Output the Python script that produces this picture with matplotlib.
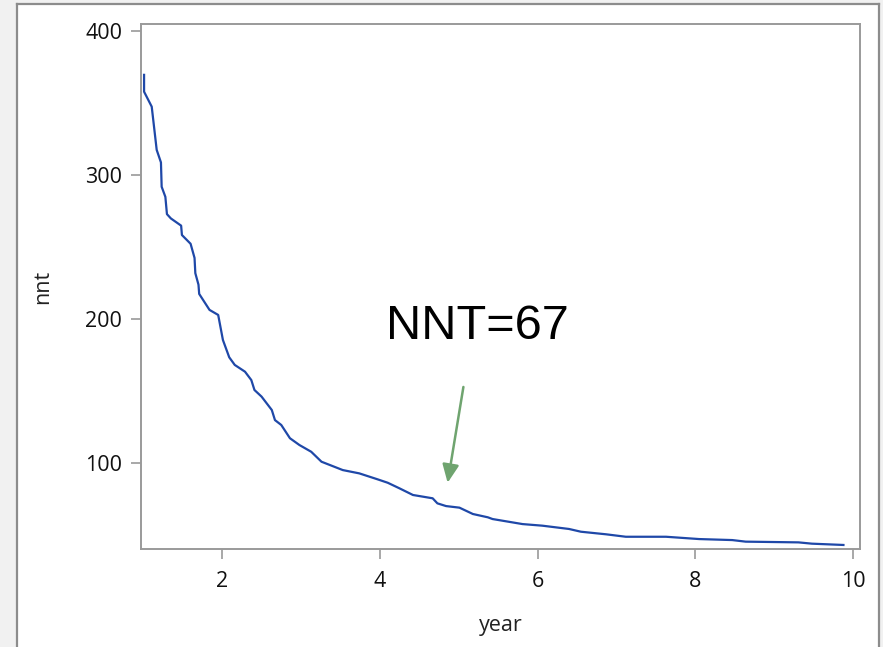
import matplotlib
matplotlib.use("Agg")
import matplotlib.pyplot as plt
from matplotlib.patches import Rectangle
from matplotlib.lines import Line2D

year = [1.01, 1.01, 1.107, 1.17, 1.224, 1.233, 1.28, 1.30, 1.35, 1.48, 1.49, 1.60, 1.65, 1.66,
        1.70, 1.709, 1.84, 1.95, 2.01, 2.09, 2.16, 2.29, 2.37, 2.41, 2.50, 2.63, 2.67, 2.75,
        2.86, 2.98, 3.13, 3.26, 3.53, 3.74, 3.97, 4.10, 4.25, 4.42, 4.67, 4.73, 4.84, 5.01,
        5.18, 5.37, 5.43, 5.81, 6.06, 6.40, 6.55, 6.87, 7.12, 7.63, 8.05, 8.47, 8.64, 9.31,
        9.48, 9.88]
nnt = [369.7, 358.0, 347.6, 317.6, 308.9, 292.0, 285.0, 273.0, 270.0, 265.0, 258.5, 252.4,
       242.6, 232.0, 224.0, 217.6, 206.5, 203.0, 185.6, 173.6, 168.3, 163.6, 157.8, 150.9,
       146.3, 137.0, 130.0, 126.6, 117.4, 112.7, 108.0, 101.1, 95.3, 93.0, 88.9, 86.5, 82.6,
       78.0, 75.7, 72.2, 70.3, 69.2, 64.8, 62.5, 61.3, 57.8, 56.7, 54.4, 52.5, 50.7, 49.0,
       49.0, 47.4, 46.7, 45.6, 45.1, 44.2, 43.3]
xticks = [2, 4, 6, 8, 10]
yticks = [100, 200, 300, 400]
annotation_text = "NNT=67"

W, H = 883, 647
fig = plt.figure(figsize=(W / 100, H / 100), dpi=100)
fig.patch.set_facecolor("white")

# slide background strips and outer frame
fig.add_artist(Rectangle((0, 0), 16 / W, 1, transform=fig.transFigure,
                         facecolor="#f1f1f1", edgecolor="none", zorder=0))
fig.add_artist(Rectangle((880 / W, 0), 1 - 880 / W, 1, transform=fig.transFigure,
                         facecolor="#f1f1f1", edgecolor="none", zorder=0))
fig.add_artist(Rectangle((0, 1 - 3 / H), 1, 3 / H, transform=fig.transFigure,
                         facecolor="#f1f1f1", edgecolor="none", zorder=0))
frame_kw = dict(transform=fig.transFigure, color="#8c8c8c", lw=1.6, zorder=1)
fig.add_artist(Line2D([16.5 / W, 16.5 / W], [0, 1 - 3.5 / H], **frame_kw))
fig.add_artist(Line2D([879 / W, 879 / W], [0, 1 - 3.5 / H], **frame_kw))
fig.add_artist(Line2D([16.5 / W, 879 / W], [1 - 3.5 / H, 1 - 3.5 / H], **frame_kw))

ax = fig.add_axes([141 / W, 1 - 549 / H, (860 - 141) / W, (549 - 24) / H])
ax.plot(year, nnt, color="#1f48a8", lw=1.6, zorder=3)

ax.set_xlim(0.971, 10.09)
ax.set_ylim(40.5, 405)
ax.set_xticks(xticks)
ax.set_yticks(yticks)
ax.set_xticklabels([str(t) for t in xticks])
ax.set_yticklabels([str(t) for t in yticks])

for s in ax.spines.values():
    s.set_color("#9a9a9a")
    s.set_linewidth(1.4)
ax.tick_params(axis="both", direction="out", length=7.5, width=1.2, color="#9a9a9a",
               labelsize=15.5, labelcolor="#111111", pad=6)
ax.tick_params(axis="x", pad=8)
for lab in ax.get_xticklabels() + ax.get_yticklabels():
    lab.set_family("Open Sans")

ax.set_xlabel("year", fontsize=15.5, family="Open Sans", color="#222222", labelpad=17)
ax.set_ylabel("nnt", fontsize=15.5, family="Open Sans", color="#222222", labelpad=23)

ax.text(5.24, 194.7, annotation_text, fontsize=35, family="Liberation Sans",
        ha="center", va="center", color="black")
ax.annotate("", xy=(4.86, 86.5), xytext=(5.06, 153),
            arrowprops=dict(arrowstyle="-|>,head_length=1.1,head_width=0.5",
                            color="#6fa46f", lw=1.8, shrinkA=0, shrinkB=0))

fig.savefig("out.png", dpi=100)
